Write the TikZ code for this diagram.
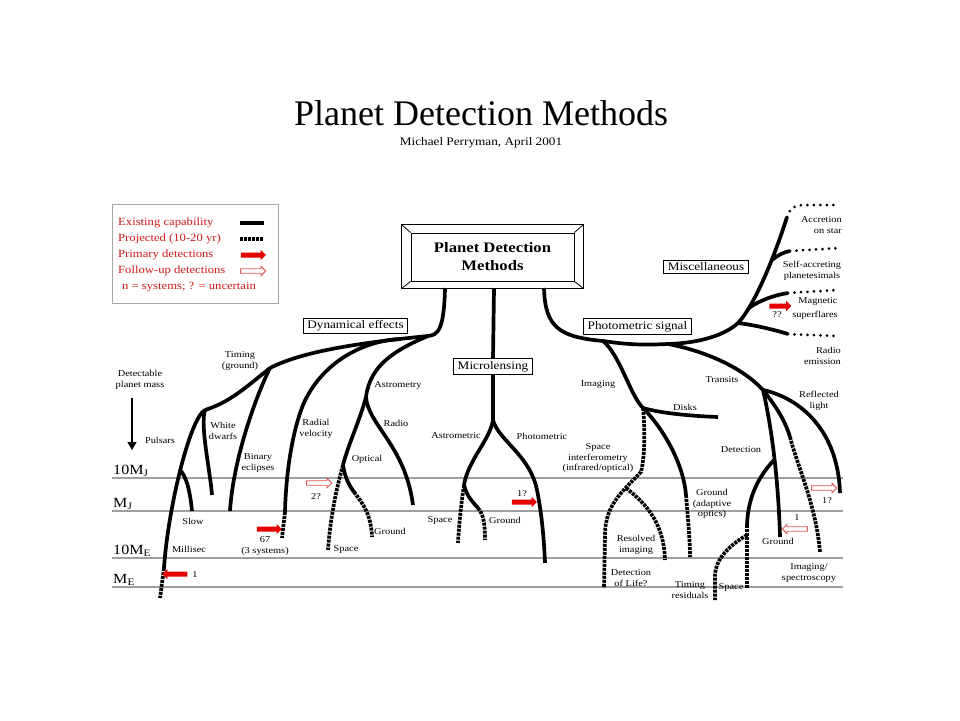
\documentclass[tikz,border=0pt]{standalone}
\usepackage{fontspec}
\setmainfont{Liberation Serif}
\newfontfamily\palfont{Liberation Serif}[FakeStretch=1.15]
\usetikzlibrary{positioning, shapes.arrows, arrows.meta}

\definecolor{legendred}{RGB}{205,25,25}
\definecolor{arrowred}{RGB}{230,0,0}
\definecolor{hollowred}{RGB}{225,90,90}

\tikzset{
  branch/.style={line width=3.7pt},
  projected/.style={line width=3.7pt, dash pattern=on 3pt off 1pt},
  dotrow/.style={line width=3pt, line cap=round, dash pattern=on 0pt off 6.5pt},
  scaleline/.style={gray!75, line width=1.1pt},
  lbl/.style={font=\palfont\fontsize{9}{10.5}\selectfont, align=center, inner sep=0pt},
  boxlbl/.style={draw, line width=0.9pt, fill=white, font=\palfont\fontsize{11.5}{13}\selectfont, inner xsep=4pt, inner ysep=2.5pt},
  legtxt/.style={font=\palfont\fontsize{11}{13}\selectfont, text=legendred, anchor=west, inner sep=0pt},
  masslbl/.style={font=\palfont\fontsize{14}{16}\selectfont, anchor=south west, inner sep=1pt},
  primary/.style={single arrow, fill=arrowred, minimum height=25pt, inner sep=2.3pt, single arrow head extend=2.6pt},
  followup/.style={single arrow, draw=hollowred, line width=0.9pt, fill=white, minimum height=25pt, inner sep=1.8pt, single arrow head extend=2.4pt}
}

\begin{document}
\begin{tikzpicture}[x=1pt,y=-1pt]

    \fill[white] (0,0) rectangle (960,720);
    \useasboundingbox (0,0) rectangle (960,720);

    \node[font=\fontsize{36}{40}\selectfont, anchor=base] (title) at (481,125) {Planet Detection Methods};
    \node[font=\palfont\fontsize{11.5}{13}\selectfont, anchor=base] (author) at (481,145) {Michael Perryman, April 2001};

    \foreach \yy/\lab in {478/10M\textsubscript{J}, 511/M\textsubscript{J}, 558/10M\textsubscript{E}, 587/M\textsubscript{E}}
    {
      \draw[scaleline] (112,\yy) -- (843,\yy);
      \node[masslbl] (mass\yy) at (112,\yy) {\lab};
    }

    \node[draw=gray!70, line width=1pt, minimum width=166pt, minimum height=99pt] (legend) at (195,253.5) {};
    \node[legtxt] (legexist) at (118,223) {Existing capability};
    \node[legtxt] (legproj) at (118,239) {Projected (10-20 yr)};
    \node[legtxt] (legprim) at (118,255) {Primary detections};
    \node[legtxt] (legfoll) at (118,271) {Follow-up detections};
    \node[legtxt] (legnote) at (122,287) {n = systems; ? = uncertain};
    \draw[branch] (240,223) -- (264,223);
    \draw[projected] (240,239) -- (264,239);
    \node[primary] (legprimarr) at (252,255) {};
    \node[followup] (legfollarr) at (252,271) {};

    \node[lbl] (detmass) at (140,380) {Detectable\\planet mass};
    \draw[line width=1.2pt, -{Triangle[length=8pt, width=9pt]}] (132,398) -- (132,450);

    \node[draw, line width=1pt, minimum width=163pt, minimum height=48pt, align=center,
          font=\palfont\bfseries\fontsize{14.5}{18}\selectfont] (pdm) at (492.5,257) {Planet Detection\\Methods};
    \draw[line width=1pt] ([shift={(-9,-8)}]pdm.north west) rectangle ([shift={(9,7)}]pdm.south east);
    \draw[line width=0.8pt] (pdm.north west) -- ([shift={(-9,-8)}]pdm.north west);
    \draw[line width=0.8pt] (pdm.north east) -- ([shift={(9,-8)}]pdm.north east);
    \draw[line width=0.8pt] (pdm.south west) -- ([shift={(-9,7)}]pdm.south west);
    \draw[line width=0.8pt] (pdm.south east) -- ([shift={(9,7)}]pdm.south east);

    % dynamical effects
    \coordinate (dynTop) at (445,288);
    \coordinate (dynJ) at (428,336);
    \coordinate (timJ) at (270,368);
    \coordinate (pwJ) at (205,410);
    \coordinate (pulK) at (164,568);
    \coordinate (pulEnd) at (160,598);
    \coordinate (slowJ) at (180,470);
    \coordinate (slowEnd) at (192,511);
    \coordinate (wdEnd) at (212,495);
    \coordinate (binEnd) at (230,511);
    \coordinate (rvJ) at (400,339);
    \coordinate (rvM) at (303,405);
    \coordinate (rvK) at (285,512);
    \coordinate (rvEnd) at (282,538);
    \coordinate (astJ) at (366,397);
    \coordinate (optJ) at (343,465);
    \coordinate (optSpace) at (328,550);
    \coordinate (ogK) at (354,492);
    \coordinate (optGround) at (372,537);
    \coordinate (radioEnd) at (413,505);

    \draw[branch] (dynTop) .. controls (444,330) and (438,335) .. (dynJ);
    \draw[branch] (dynJ) .. controls (368,342) and (305,350) .. (timJ);
    \draw[branch] (timJ) .. controls (245,388) and (230,402) .. (pwJ);
    \draw[branch] (pwJ) .. controls (190,418) and (168,508) .. (pulK);
    \draw[projected] (pulK) -- (pulEnd);
    \draw[branch] (slowJ) .. controls (186,476) and (190,490) .. (slowEnd);
    \draw[branch] (pwJ) .. controls (200,425) and (210,470) .. (wdEnd);
    \draw[branch] (timJ) .. controls (255,398) and (233,461) .. (binEnd);
    \draw[branch] (rvJ) .. controls (360,341) and (320,365) .. (rvM)
                  .. controls (293,430) and (286,470) .. (rvK);
    \draw[projected] (rvK) -- (rvEnd);
    \draw[branch] (dynJ) .. controls (395,350) and (370,365) .. (astJ);
    \draw[branch] (astJ) .. controls (360,420) and (348,445) .. (optJ);
    \draw[projected] (optJ) .. controls (336,490) and (330,520) .. (optSpace);
    \draw[branch] (optJ) .. controls (345,478) and (349,485) .. (ogK);
    \draw[projected] (ogK) .. controls (364,505) and (371,515) .. (optGround);
    \draw[branch] (astJ) .. controls (368,425) and (405,445) .. (radioEnd);

    \node[boxlbl] (dyn) at (355.5,326) {Dynamical effects};
    \node[lbl] (timing) at (240,361) {Timing\\(ground)};
    \node[lbl] (pulsars) at (160,440) {Pulsars};
    \node[lbl] (wdwarfs) at (223,431) {White\\dwarfs};
    \node[lbl] (bineclipse) at (258,463) {Binary\\eclipses};
    \node[lbl] (radvel) at (316,429) {Radial\\velocity};
    \node[lbl] (astrometry) at (398,385) {Astrometry};
    \node[lbl] (radio) at (396,423) {Radio};
    \node[lbl] (optical) at (367,459) {Optical};
    \node[lbl] (optgnd) at (390,531) {Ground};
    \node[lbl] (optspc) at (346,549) {Space};
    \node[lbl] (slow) at (193,521) {Slow};
    \node[lbl] (millisec) at (189,549) {Millisec};
    \node[lbl] (n67) at (265,546) {67\\(3 systems)};
    \node[lbl] (n1left) at (195,575) {1};
    \node[lbl] (n2) at (316,497) {2?};
    \node[primary] (arr67) at (268,529) {};
    \node[followup] (arr2) at (318,483) {};
    \node[primary, shape border rotate=180] (arr1left) at (176,574) {};

    % microlensing
    \coordinate (microTop) at (494,288);
    \coordinate (mlJ) at (493,420);
    \coordinate (amJ) at (464,485);
    \coordinate (amSpace) at (458,543);
    \coordinate (agK) at (478,508);
    \coordinate (amGround) at (485,540);
    \coordinate (phK) at (537,490);
    \coordinate (phEnd) at (545,563);

    \node[boxlbl] (micro) at (493,366.5) {Microlensing};
    \draw[branch] (microTop) -- (micro.north);
    \draw[branch] (micro.south) -- (mlJ);
    \draw[branch] (mlJ) .. controls (490,440) and (468,460) .. (amJ);
    \draw[projected] (amJ) .. controls (461,505) and (459,525) .. (amSpace);
    \draw[branch] (amJ) .. controls (467,497) and (473,502) .. (agK);
    \draw[projected] (agK) .. controls (484,515) and (485,525) .. (amGround);
    \draw[branch] (mlJ) .. controls (498,440) and (530,455) .. (phK);
    \draw[branch] (phK) .. controls (542,515) and (544,540) .. (phEnd);

    \node[lbl] (astrometric) at (456,436) {Astrometric};
    \node[lbl] (photometric) at (542,436) {Photometric};
    \node[lbl] (mlspace) at (440,520) {Space};
    \node[lbl] (mlground) at (505,520) {Ground};
    \node[lbl] (n17) at (522,494) {1?};
    \node[primary] (arr17) at (523,502) {};

    % photometric signal
    \coordinate (photTop) at (544,288);
    \coordinate (imgJ) at (603,341);
    \coordinate (trJ) at (668,344);
    \coordinate (miscJ) at (738,323);
    \coordinate (accJ) at (787,217);
    \coordinate (accEnd) at (835,205);
    \coordinate (saJ) at (772,260);
    \coordinate (saK) at (790,251);
    \coordinate (saEnd) at (840,248);
    \coordinate (magJ) at (749,308);
    \coordinate (magK) at (788,293);
    \coordinate (magEnd) at (838,290);
    \coordinate (radK) at (788,334);
    \coordinate (radEnd) at (838,336);
    \coordinate (diskJ) at (643,408);
    \coordinate (diskEnd) at (718,417);
    \coordinate (siK) at (641,472);
    \coordinate (siL) at (605,535);
    \coordinate (dlEnd) at (604,588);
    \coordinate (rsJ) at (626,488);
    \coordinate (rsEnd) at (665,560);
    \coordinate (gaK) at (686,495);
    \coordinate (gaEnd) at (690,557);
    \coordinate (trK) at (763,390);
    \coordinate (rlEnd) at (840,493);
    \coordinate (tgEnd) at (780,537);
    \coordinate (detJ) at (774,460);
    \coordinate (detK) at (747,525);
    \coordinate (detEnd) at (747,588);
    \coordinate (trsJ) at (747,535);
    \coordinate (trsK) at (715,575);
    \coordinate (trsEnd) at (715,600);
    \coordinate (isK) at (790,437);
    \coordinate (isEnd) at (820,552);

    \draw[branch] (photTop) .. controls (545,328) and (560,337) .. (imgJ)
                  .. controls (630,345) and (645,345) .. (trJ)
                  .. controls (700,343) and (725,335) .. (miscJ);
    \draw[branch] (miscJ) .. controls (755,305) and (775,255) .. (accJ);
    \draw[dotrow] (accJ) .. controls (790,208) and (795,205) .. (805,205) -- (accEnd);
    \draw[branch] (saJ) .. controls (778,255) and (784,252) .. (saK);
    \draw[dotrow] (saK) -- (saEnd);
    \draw[branch] (magJ) .. controls (760,300) and (775,295) .. (magK);
    \draw[dotrow] (magK) -- (magEnd);
    \draw[branch] (miscJ) .. controls (755,325) and (775,330) .. (radK);
    \draw[dotrow] (radK) -- (radEnd);

    \draw[branch] (imgJ) .. controls (620,355) and (630,395) .. (diskJ);
    \draw[branch] (diskJ) .. controls (660,413) and (690,416) .. (diskEnd);
    \draw[projected] (diskJ) .. controls (645,430) and (645,455) .. (siK)
                     .. controls (622,492) and (605,505) .. (siL) -- (dlEnd);
    \draw[projected] (rsJ) .. controls (648,505) and (664,525) .. (rsEnd);
    \draw[branch] (diskJ) .. controls (660,425) and (683,460) .. (gaK);
    \draw[projected] (gaK) .. controls (688,520) and (690,540) .. (gaEnd);

    \draw[branch] (trJ) .. controls (700,350) and (740,365) .. (trK);
    \draw[branch] (trK) .. controls (800,398) and (838,430) .. (rlEnd);
    \draw[branch] (trK) .. controls (770,420) and (778,470) .. (tgEnd);
    \draw[branch] (detJ) .. controls (760,475) and (748,495) .. (detK);
    \draw[projected] (detK) -- (detEnd);
    \draw[projected] (trsJ) .. controls (730,545) and (716,558) .. (trsK) -- (trsEnd);
    \draw[branch] (trK) .. controls (775,405) and (785,420) .. (isK);
    \draw[projected] (isK) .. controls (797,465) and (816,505) .. (isEnd);

    \node[boxlbl] (photsig) at (637.5,326.5) {Photometric signal};
    \node[boxlbl] (misc) at (706,266.5) {Miscellaneous};
    \node[lbl, align=right, anchor=east] (accretion) at (842,225) {Accretion\\on star};
    \node[lbl] (selfacc) at (812,271) {Self-accreting\\planetesimals};
    \node[lbl] (magnetic) at (818,301) {Magnetic};
    \node[lbl] (nmag) at (777,315) {??};
    \node[lbl] (superflares) at (815,315) {superflares};
    \node[primary, minimum height=22pt] (arrmag) at (779,306) {};
    \node[lbl, align=right, anchor=east] (radioem) at (841,356) {Radio\\emission};
    \node[lbl] (imaging) at (598,384) {Imaging};
    \node[lbl] (disks) at (685,407) {Disks};
    \node[lbl] (spaceint) at (598,458) {Space\\interferometry\\(infrared/optical)};
    \node[lbl] (resolved) at (636,545) {Resolved\\imaging};
    \node[lbl] (life) at (631,578) {Detection\\of Life?};
    \node[lbl] (timres) at (690,590) {Timing\\residuals};
    \node[lbl] (trspace) at (731,587) {Space};
    \node[lbl] (adaptive) at (712,504) {Ground\\(adaptive\\optics)};
    \node[lbl] (transits) at (722,380) {Transits};
    \node[lbl] (reflected) at (819,401) {Reflected\\light};
    \node[lbl] (detection) at (741,450) {Detection};
    \node[lbl] (trground) at (778,541) {Ground};
    \node[lbl] (imgspec) at (809,573) {Imaging/\\spectroscopy};
    \node[lbl] (n17r) at (827,501) {1?};
    \node[lbl] (n1r) at (797,518) {1};
    \node[followup] (arr17r) at (823,488) {};
    \node[followup, shape border rotate=180] (arr1r) at (796,529) {};

  \end{tikzpicture}
\end{document}
